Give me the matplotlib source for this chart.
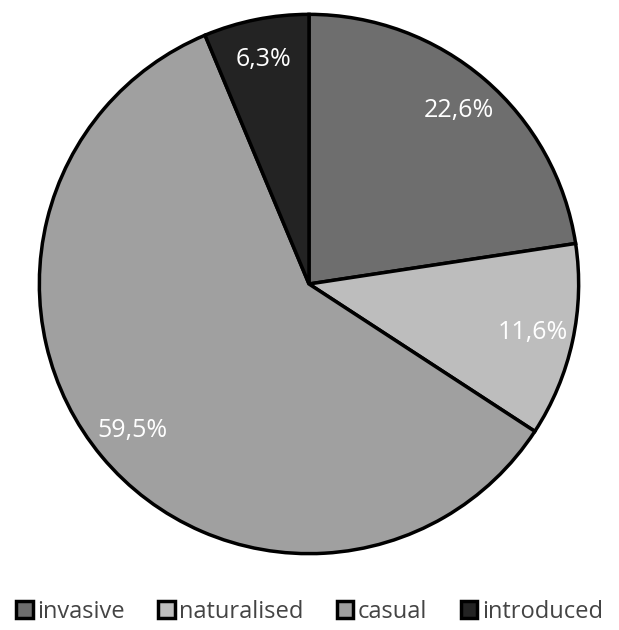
import matplotlib.pyplot as plt

labels = ['invasive', 'naturalised', 'casual', 'introduced']
values = [22.6, 11.6, 59.5, 6.3]
colors = ['#6e6e6e', '#bdbdbd', '#a0a0a0', '#232323']

plt.rcParams['font.family'] = ['Open Sans', 'DejaVu Sans']

fig = plt.figure(figsize=(6.19, 6.30), dpi=100)
r = 271
cx, cy = 309, 284
ax = fig.add_axes([(cx - r) / 619, (630 - cy - r) / 630, 2 * r / 619, 2 * r / 630])

wedges, texts, autotexts = ax.pie(
    values, colors=colors, startangle=90, counterclock=False,
    autopct=lambda p: ('%.1f%%' % p).replace('.', ','), pctdistance=0.85,
    wedgeprops=dict(edgecolor='black', linewidth=2.5),
    textprops=dict(color='white', fontsize=18))
ax.set_xlim(-1.005, 1.005)
ax.set_ylim(-1.005, 1.005)
ax.set_aspect('equal')

fig.legend(wedges, labels, loc='center', bbox_to_anchor=(0.5, 1 - 612 / 630),
           ncol=4, frameon=False, fontsize=17, handlelength=0.7, handleheight=0.7,
           handletextpad=0.2, columnspacing=1.4, labelcolor='#444444')

fig.savefig('out.png', dpi=100, facecolor='white')
